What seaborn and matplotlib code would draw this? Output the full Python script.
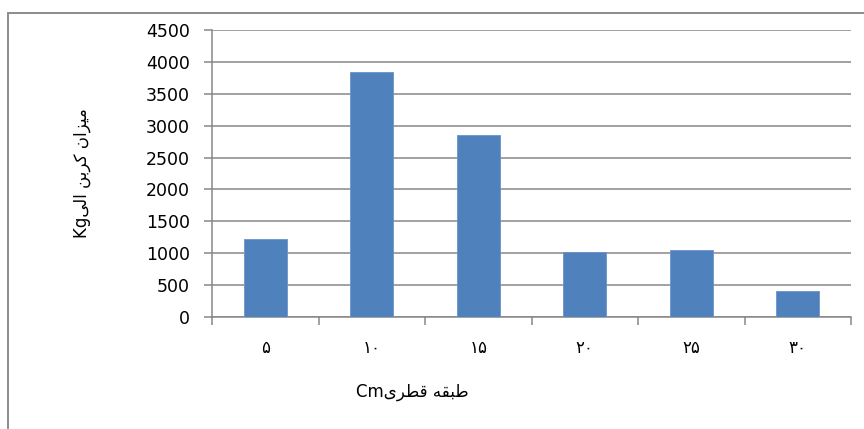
import matplotlib
matplotlib.use("Agg")
import matplotlib.pyplot as plt
import seaborn as sns
import pandas as pd
from matplotlib.patches import Rectangle

# داده‌ها
classes = ["\u06f5", "\u06f1\u06f0", "\u06f1\u06f5", "\u06f2\u06f0", "\u06f2\u06f5", "\u06f3\u06f0"]
carbon = [1220, 3835, 2855, 1025, 1045, 405]
y_ticks = [0, 500, 1000, 1500, 2000, 2500, 3000, 3500, 4000, 4500]

# متن فارسی به صورت شکل‌های نمایشی، به ترتیب دیداری
x_label = "Cm" + "\ufeef\ufeae\ufec4\ufed7 \ufeea\ufed8\ufe92\ufec3"
y_label = "Kg" + "\ufef0\ufedf\ufe8d \ufee6\ufe91\ufeae\ufedb \ufee5\ufe8d\ufeb0\ufef4\ufee3"

df = pd.DataFrame({"class": classes, "carbon": carbon})

sns.set_style("white")
plt.rcParams["font.family"] = ["DejaVu Sans"]
plt.rcParams["text.color"] = "black"
plt.rcParams["axes.labelcolor"] = "black"
plt.rcParams["xtick.color"] = "black"
plt.rcParams["ytick.color"] = "black"

fig = plt.figure(figsize=(8.64, 4.29), dpi=100)
ax = fig.add_axes([212 / 864, 1 - 317 / 429, 639 / 864, 287 / 429])

sns.barplot(data=df, x="class", y="carbon", color="#4F81BD", saturation=1,
            width=0.4, ax=ax, zorder=3, edgecolor="#6A93C8", linewidth=0.6)

grid_c = "#878787"
ax.set_ylim(0, 4500)
ax.set_xlim(-0.5, len(classes) - 0.5)
ax.set_yticks(y_ticks)
ax.yaxis.grid(True, color=grid_c, linewidth=1.1, zorder=0)
ax.set_axisbelow(True)

# تیک‌های محور x بین دسته‌ها
ax.set_xticks(range(len(classes)))
ax.set_xticklabels(classes, fontsize=12)
ax.set_xticks([i - 0.5 for i in range(len(classes) + 1)], minor=True)
ax.tick_params(axis="x", which="major", bottom=True, length=0, pad=16)
ax.tick_params(axis="x", which="minor", bottom=True, length=6, width=1.1,
               color=grid_c, direction="out")
ax.tick_params(axis="y", left=True, length=6, width=1.1, color=grid_c,
               labelcolor="black", direction="out", labelsize=12.5, pad=10)

for side in ["top", "right"]:
    ax.spines[side].set_visible(False)
for side in ["left", "bottom"]:
    ax.spines[side].set_color(grid_c)
    ax.spines[side].set_linewidth(1.1)

ax.set_xlabel(x_label, fontsize=12)
ax.xaxis.set_label_coords(0.313, -0.23)
ax.set_ylabel(y_label, fontsize=12)
ax.yaxis.set_label_coords(-0.19, 0.5)

# کادر بیرونی نمودار
fig.patches.append(Rectangle((8 / 864, -0.1), 1.0, 1 - 13 / 429 + 0.1,
                             transform=fig.transFigure, fill=False,
                             edgecolor="#8c8c8c", linewidth=1.4))

fig.savefig("out.png", dpi=100)
